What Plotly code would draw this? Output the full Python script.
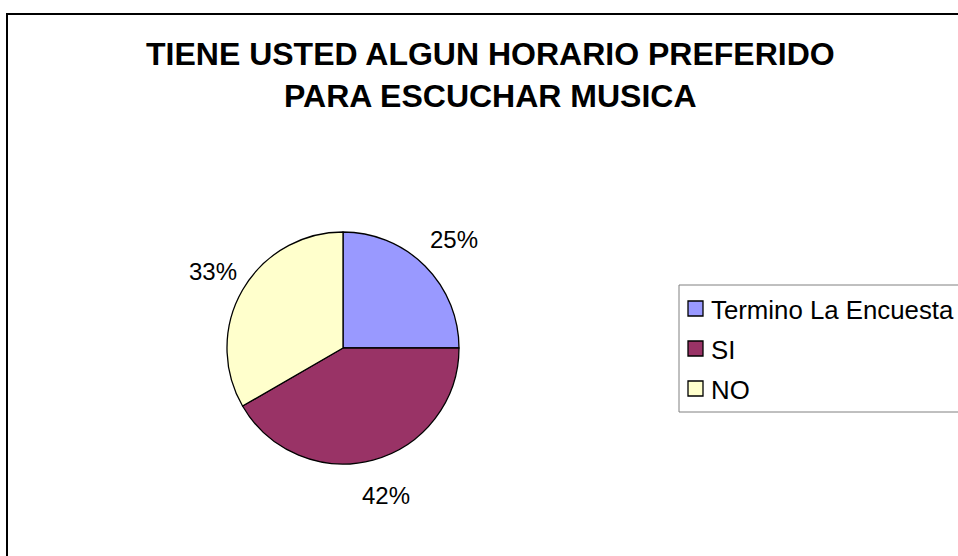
import math
import plotly.graph_objects as go

categories = ["Termino La Encuesta", "SI", "NO"]
values = [3, 5, 4]
colors = ["#9999FF", "#993366", "#FFFFCC"]
title_lines = ["TIENE USTED ALGUN HORARIO PREFERIDO", "PARA ESCUCHAR MUSICA"]

W, H = 958, 556
FONT = "Liberation Sans, Arial"
CX, CY, R = 343, 348, 116      # pie centre and radius, pixels
LABEL_R = 153                  # distance of percentage labels from the centre

def px_x(x):
    return x / W

def px_y(y):
    return 1 - y / H

fig = go.Figure()
fig.add_trace(go.Pie(
    labels=categories,
    values=values,
    sort=False,
    direction="clockwise",
    rotation=0,
    marker=dict(colors=colors, line=dict(color="#000000", width=1.3)),
    textinfo="none",
    domain=dict(x=[px_x(CX - R), px_x(CX + R)], y=[px_y(CY + R), px_y(CY - R)]),
    showlegend=False,
    hoverinfo="label+percent",
))

shapes = []
annotations = []

# percentage labels placed along each slice's mid-angle, Excel style
total = sum(values)
cum = 0
for v in values:
    mid = (cum + v / 2) / total * 2 * math.pi
    cum += v
    lx = CX + 3 + LABEL_R * math.sin(mid)
    ly = CY - LABEL_R * math.cos(mid)
    annotations.append(dict(text=f"{round(100 * v / total)}%", xref="paper", yref="paper",
                            x=px_x(lx), y=px_y(ly), xanchor="center", yanchor="middle",
                            showarrow=False,
                            font=dict(family=FONT, size=24, color="#000000")))

# outer frame (right and bottom edges fall outside the picture)
shapes.append(dict(type="rect", xref="paper", yref="paper",
                   x0=px_x(7), x1=px_x(1000), y0=px_y(600), y1=px_y(14),
                   line=dict(color="#000000", width=2), fillcolor="rgba(0,0,0,0)"))

# title
annotations.append(dict(text="<b>" + "<br>".join(title_lines) + "</b>",
                        xref="paper", yref="paper", x=px_x(490), y=px_y(75),
                        xanchor="center", yanchor="middle", showarrow=False,
                        font=dict(family=FONT, size=32, color="#000000")))

# legend box
shapes.append(dict(type="rect", xref="paper", yref="paper",
                   x0=px_x(679), x1=px_x(1000), y0=px_y(412), y1=px_y(285),
                   line=dict(color="#808080", width=1), fillcolor="#FFFFFF"))
for i, (cat, col) in enumerate(zip(categories, colors)):
    yc = 308.5 + 40 * i
    shapes.append(dict(type="rect", xref="paper", yref="paper",
                       x0=px_x(688), x1=px_x(703), y0=px_y(yc + 7.5), y1=px_y(yc - 7.5),
                       line=dict(color="#000000", width=1.3), fillcolor=col))
    annotations.append(dict(text=cat, xref="paper", yref="paper",
                            x=px_x(709), y=px_y(yc + 1), xanchor="left", yanchor="middle",
                            showarrow=False,
                            font=dict(family=FONT, size=25.8, color="#000000")))

fig.update_layout(
    width=W, height=H,
    margin=dict(l=0, r=0, t=0, b=0),
    paper_bgcolor="#FFFFFF",
    plot_bgcolor="#FFFFFF",
    shapes=shapes,
    annotations=annotations,
)

fig.write_html("out.html",
               config={"displayModeBar": False},
               post_script="document.body.style.margin='0';document.body.style.overflow='hidden';")
